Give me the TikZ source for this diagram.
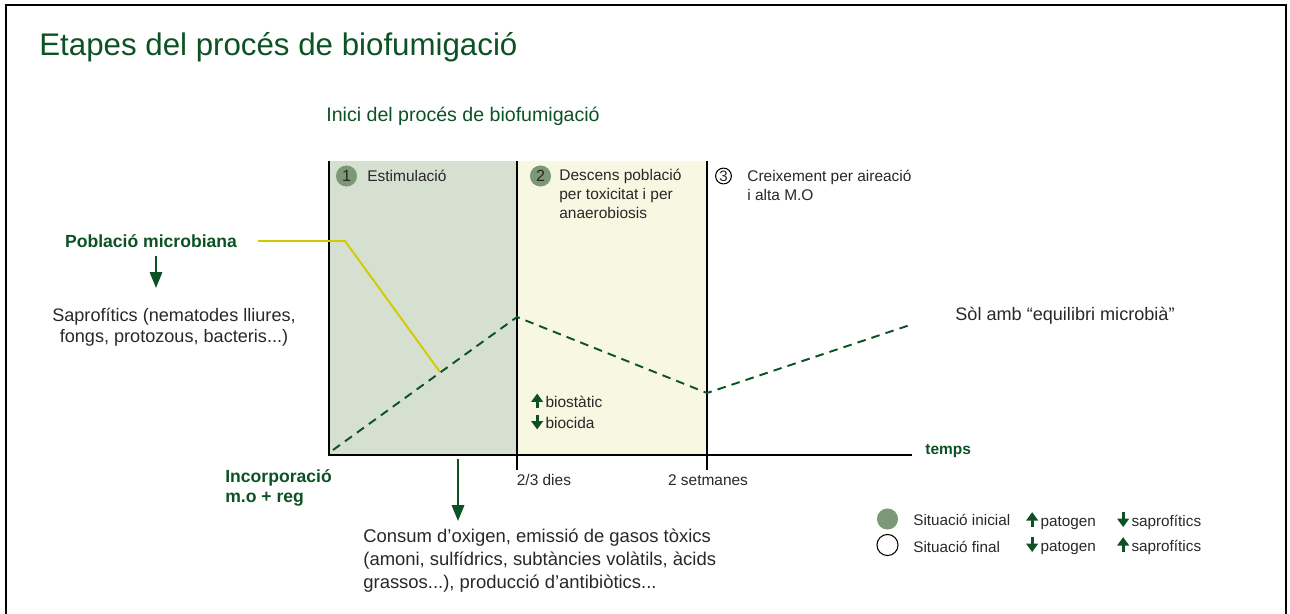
\documentclass[tikz,border=0pt]{standalone}
\usepackage{fontspec}
\setmainfont{Liberation Sans}
\usepackage{xcolor}
\usepackage{tikz}
\usetikzlibrary{arrows.meta, positioning}
\definecolor{darkgreen}{RGB}{12,82,36}
\definecolor{stagegreen}{RGB}{213,224,208}
\definecolor{stageyellow}{RGB}{247,247,226}
\definecolor{curveyellow}{RGB}{212,202,0}
\definecolor{dotgreen}{RGB}{125,152,118}
\definecolor{textgray}{RGB}{40,40,40}
\newcommand{\uparr}{\tikz[baseline=0pt]\draw[darkgreen, line width=1.7pt, -{Triangle[width=6.6pt,length=4.8pt]}] (0,-0.5pt) -- (0,8pt);\,}
\newcommand{\downarr}{\tikz[baseline=0pt]\draw[darkgreen, line width=1.7pt, -{Triangle[width=6.6pt,length=4.8pt]}] (0,8pt) -- (0,-0.5pt);\,}
\tikzset{
>={Triangle[width=7pt,length=9pt]}, % bold filled arrow heads
every node/.style={inner sep=0pt, text=textgray}, % no padding round texts
plain/.style={font=\fontsize{8.8}{11}\selectfont, align=left}, % texts inside the chart
bigplain/.style={font=\fontsize{10.3}{12}\selectfont, align=left}, % explanatory texts
legendtext/.style={font=\fontsize{8.7}{10}\selectfont, anchor=west},
greenbold/.style={font=\fontsize{10}{11.5}\bfseries\selectfont, text=darkgreen, align=left},
numdot/.style={circle, minimum size=12pt, fill=dotgreen, font=\fontsize{9.2}{9.2}\selectfont},
numring/.style={circle, minimum size=9pt, draw=black, line width=0.6pt, font=\fontsize{8.6}{8.6}\selectfont},
stageline/.style={black, line width=1.15pt},
}

\begin{document}
\begin{tikzpicture}[x=0.02cm, y=-0.02cm]
        \useasboundingbox (0,0) rectangle (1290,614);
        \draw[black, line width=1.4pt] (6,614) -- (6,5) -- (1286,5) -- (1286,614);

        \node[anchor=west, font=\fontsize{17.8}{20}\selectfont, text=darkgreen] (title) at (39,47) {Etapes del procés de biofumigació};
        \node[anchor=west, font=\fontsize{11.15}{13}\selectfont, text=darkgreen] (inici) at (326,116) {Inici del procés de biofumigació};

        % stages
        \fill[stagegreen] (329,161) rectangle (517,455);
        \fill[stageyellow] (517,161) rectangle (707,455);
        \coordinate (o) at (329,455);
        \coordinate (top1) at (329,161);
        \coordinate (top2) at (517,161);
        \coordinate (top3) at (707,161);
        \coordinate (tick2) at (517,470);
        \coordinate (tick3) at (707,470);
        \coordinate (tend) at (912,455);
        \draw[stageline] (top1) -- (o) -- (tend);
        \draw[stageline] (top2) -- (tick2);
        \draw[stageline] (top3) -- (tick3);

        \node[numdot] (n1) at (346.5,176) {1};
        \node[plain, anchor=west] (s1) at (367,176) {Estimulació};
        \node[numdot] (n2) at (540.5,176) {2};
        \node[plain, anchor=north west] (s2) at (559,168.5) {Descens població\\per toxicitat i per\\anaerobiosis};
        \node[numring] (n3) at (723.5,176) {3};
        \node[plain, anchor=north west] (s3) at (747,169.5) {Creixement per aireació\\i alta M.O};

        % curves
        \coordinate (y0) at (258,241);
        \coordinate (y1) at (345,241);
        \coordinate (y2) at (440,372);
        \coordinate (d0) at (333,450);
        \coordinate (d1) at (517,317);
        \coordinate (d2) at (707,393);
        \coordinate (d3) at (913,324);
        \draw[curveyellow, line width=1.1pt] (y0) -- (y1) -- (y2);
        \draw[darkgreen, line width=1.1pt, dash pattern=on 4.9pt off 3.5pt] (d0) -- (d1) -- (d2) -- (d3);

        \node[plain, anchor=west] (biost) at (531,401) {\uparr biostàtic};
        \node[plain, anchor=west] (bioc) at (531,422) {\downarr biocida};

        \node[font=\fontsize{8.8}{10}\bfseries\selectfont, text=darkgreen, anchor=west] (temps) at (925,451) {temps};
        \node[plain, anchor=west] (dies) at (516.5,480) {2/3 dies};
        \node[plain] (setm) at (708,480) {2 setmanes};

        % left side
        \node[greenbold] (pobl) at (151,241) {Població microbiana};
        \node[bigplain, align=center] (sapro) at (174,327) {Saprofítics (nematodes lliures,\\fongs, protozous, bacteris...)};
        \coordinate (poblend) at (156,288);
        \draw[->, darkgreen, line width=1.3pt] (156,256) -- (poblend);
        \node[greenbold, anchor=north west] (incorp) at (225,469) {Incorporació\\m.o + reg};
        \node[bigplain, anchor=north west, font=\fontsize{10.5}{13}\selectfont] (consum) at (363,529) {Consum d’oxigen, emissió de gasos tòxics\\(amoni, sulfídrics, subtàncies volàtils, àcids\\grassos...), producció d’antibiòtics...};
        \coordinate (consumend) at (458,521);
        \draw[->, darkgreen, line width=1.3pt] (458,459) -- (consumend);
        \node[bigplain, anchor=west] (sol) at (955,316) {Sòl amb “equilibri microbià”};

        % legend
        \node[numdot, minimum size=12pt] (ini) at (887.5,519) {};
        \node[numring, minimum size=12pt] (fin) at (887.5,545) {};
        \node[legendtext] (tini) at (913,520) {Situació inicial};
        \node[legendtext] (tfin) at (913,547) {Situació final};
        \node[legendtext] (pat1) at (1026,520) {\uparr patogen};
        \node[legendtext] (pat2) at (1026,545) {\downarr patogen};
        \node[legendtext] (sap1) at (1117,520) {\downarr saprofítics};
        \node[legendtext] (sap2) at (1117,545) {\uparr saprofítics};
    \end{tikzpicture}
\end{document}
